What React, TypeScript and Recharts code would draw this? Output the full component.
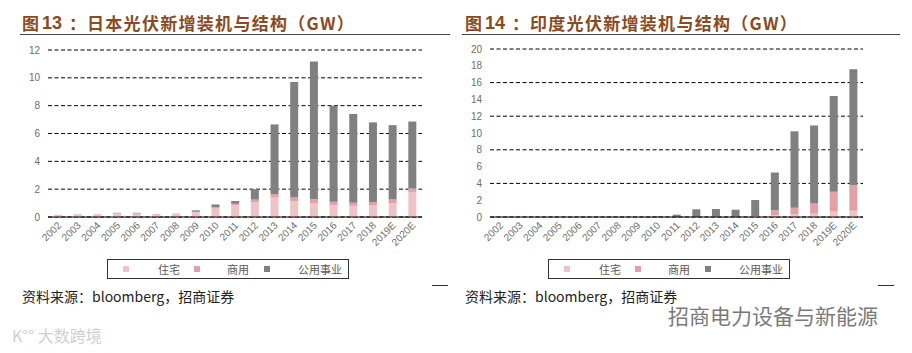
import React from "react";
import { Bar, BarChart, CartesianGrid, XAxis, YAxis } from "recharts";

const years = [
  "2002", "2003", "2004", "2005", "2006", "2007", "2008", "2009", "2010", "2011",
  "2012", "2013", "2014", "2015", "2016", "2017", "2018", "2019E", "2020E",
];

// 日本 (GW)
const japanResidential = [0.12, 0.16, 0.16, 0.24, 0.22, 0.18, 0.2, 0.33, 0.6, 0.85, 1.05, 1.4, 1.15, 1.0, 0.85, 0.8, 0.85, 1.0, 1.8];
const japanCommercial = [0.02, 0.02, 0.02, 0.04, 0.05, 0.03, 0.03, 0.05, 0.1, 0.1, 0.2, 0.25, 0.25, 0.27, 0.25, 0.23, 0.23, 0.27, 0.26];
const japanUtility = [0.01, 0.01, 0.01, 0.02, 0.03, 0.01, 0.01, 0.1, 0.2, 0.2, 0.75, 5.0, 8.3, 9.9, 6.9, 6.37, 5.72, 5.33, 4.8];

// 印度 (GW)
const indiaResidential = [0, 0, 0, 0, 0, 0, 0, 0, 0, 0, 0, 0, 0, 0.02, 0.2, 0.3, 0.4, 0.65, 0.75];
const indiaCommercial = [0, 0, 0, 0, 0, 0, 0, 0, 0, 0, 0, 0.02, 0.02, 0.1, 0.6, 0.8, 1.2, 2.35, 3.05];
const indiaUtility = [0, 0, 0, 0, 0, 0, 0, 0, 0.06, 0.28, 0.92, 0.93, 0.85, 1.9, 4.5, 9.1, 9.3, 11.4, 13.8];

const japanTicks = [0, 2, 4, 6, 8, 10, 12];
const indiaTicks = [0, 2, 4, 6, 8, 10, 12, 14, 16, 18, 20];

const seriesNames = ["住宅", "商用", "公用事业"];
const colors = ["#F0C4C7", "#E3A0A6", "#808080"];

const buildRows = (r: number[], c: number[], u: number[]) =>
  years.map((year, i) => ({ year, res: r[i], com: c[i], util: u[i] }));

const japanRows = buildRows(japanResidential, japanCommercial, japanUtility);
const indiaRows = buildRows(indiaResidential, indiaCommercial, indiaUtility);

const tickFont = "'Liberation Sans', Arial, sans-serif";
const cjkFont = "'Noto Sans CJK SC', sans-serif";

const XTick = (props: any) => {
  const { x, y, payload } = props;
  const ax = x + 4;
  const ay = y + 1;
  return (
    <text
      x={ax}
      y={ay}
      transform={`rotate(-45 ${ax} ${ay})`}
      textAnchor="end"
      fontSize={10}
      fontFamily={tickFont}
      fill="#6e6e6e"
    >
      {payload.value}
    </text>
  );
};

function LegendBox({ left }: { left: number }) {
  const squareX = [15, 86, 156];
  const textX = [50, 119, 190];
  return (
    <div
      style={{
        position: "absolute",
        left,
        top: 259,
        width: 240,
        height: 18,
        border: "1px solid #333",
        fontFamily: cjkFont,
        fontSize: 11,
        color: "#595959",
      }}
    >
      {seriesNames.map((name, i) => (
        <React.Fragment key={name}>
          <span
            style={{
              position: "absolute",
              left: squareX[i],
              top: 6,
              width: 6,
              height: 6,
              background: colors[i],
            }}
          />
          <span style={{ position: "absolute", left: textX[i], top: 1, lineHeight: "16px" }}>
            {name}
          </span>
        </React.Fragment>
      ))}
    </div>
  );
}

const titleStyle: React.CSSProperties = {
  position: "absolute",
  top: 12,
  fontFamily: cjkFont,
  fontWeight: 700,
  fontSize: 17,
  lineHeight: "22px",
  color: "#8C4A1E",
  whiteSpace: "nowrap",
};

function Panel(props: {
  left: number;
  num: string;
  title: string;
  rows: any[];
  ticks: number[];
  max: number;
  top: number;
  yWidth: number;
  right: number;
  legendLeft: number;
  lineLeft: number;
  lineWidth: number;
  dashLeft: number;
}) {
  const { left, num, title, rows, ticks, max, top, yWidth, right, legendLeft, lineLeft, lineWidth, dashLeft } = props;
  return (
    <>
      <div style={{ ...titleStyle, left: left + 22 }}>图</div>
      <div style={{ ...titleStyle, left: left + 42, fontFamily: tickFont, fontSize: 18 }}>{num}</div>
      <div style={{ ...titleStyle, left: left + 69 }}>：</div>
      <div style={{ ...titleStyle, left: left + 87, letterSpacing: 1.3 }}>{title}</div>
      <div
        style={{
          position: "absolute",
          left: lineLeft,
          top: 34,
          width: lineWidth,
          height: 1,
          background: "#444",
        }}
      />
      <div style={{ position: "absolute", left, top: 0 }}>
        <BarChart
          width={450}
          height={290}
          data={rows}
          margin={{ top, right, left: 0, bottom: 33 }}
          barSize={8}
        >
          <CartesianGrid vertical={false} stroke="#000" strokeDasharray="4 2.5" />
          <XAxis
            dataKey="year"
            interval={0}
            tickLine={false}
            axisLine={{ stroke: "#000", strokeWidth: 1.2 }}
            height={40}
            tick={<XTick />}
          />
          <YAxis
            width={yWidth}
            domain={[0, max]}
            ticks={ticks}
            axisLine={false}
            tickLine={false}
            tick={{ fontSize: 10, fill: "#6e6e6e", fontFamily: tickFont }}
          />
          <Bar dataKey="res" stackId="a" fill={colors[0]} isAnimationActive={false} />
          <Bar dataKey="com" stackId="a" fill={colors[1]} isAnimationActive={false} />
          <Bar dataKey="util" stackId="a" fill={colors[2]} isAnimationActive={false} />
        </BarChart>
      </div>
      <LegendBox left={legendLeft} />
      <div
        style={{
          position: "absolute",
          left: dashLeft,
          top: 285,
          width: 16,
          height: 1,
          background: "#333",
        }}
      />
      <div
        style={{
          position: "absolute",
          left: left + 22,
          top: 286,
          fontFamily: cjkFont,
          fontSize: 14,
          lineHeight: "20px",
          color: "#222",
          whiteSpace: "nowrap",
        }}
      >
        资料来源：bloomberg，招商证券
      </div>
    </>
  );
}

export default function App() {
  return (
    <div
      style={{
        position: "absolute",
        left: 0,
        top: 0,
        width: 912,
        height: 353,
        background: "#fff",
        overflow: "hidden",
      }}
    >
      <Panel
        left={0}
        num="13"
        title="日本光伏新增装机与结构（GW）"
        rows={japanRows}
        ticks={japanTicks}
        max={12}
        top={50}
        yWidth={48}
        right={28}
        legendLeft={107}
        lineLeft={20}
        lineWidth={430}
        dashLeft={432}
      />
      <Panel
        left={443}
        num="14"
        title="印度光伏新增装机与结构（GW）"
        rows={indiaRows}
        ticks={indiaTicks}
        max={20}
        top={49}
        yWidth={47}
        right={30}
        legendLeft={548}
        lineLeft={462}
        lineWidth={438}
        dashLeft={878}
      />
      <div
        style={{
          position: "absolute",
          left: 668,
          top: 302,
          fontFamily: cjkFont,
          fontSize: 21,
          lineHeight: "26px",
          color: "#7a7a7a",
          whiteSpace: "nowrap",
        }}
      >
        招商电力设备与新能源
      </div>
      <div
        style={{
          position: "absolute",
          left: 12,
          top: 324,
          fontFamily: cjkFont,
          fontSize: 16,
          lineHeight: "22px",
          color: "#d0d0d0",
          whiteSpace: "nowrap",
        }}
      >
        K°° 大数跨境
      </div>
    </div>
  );
}
